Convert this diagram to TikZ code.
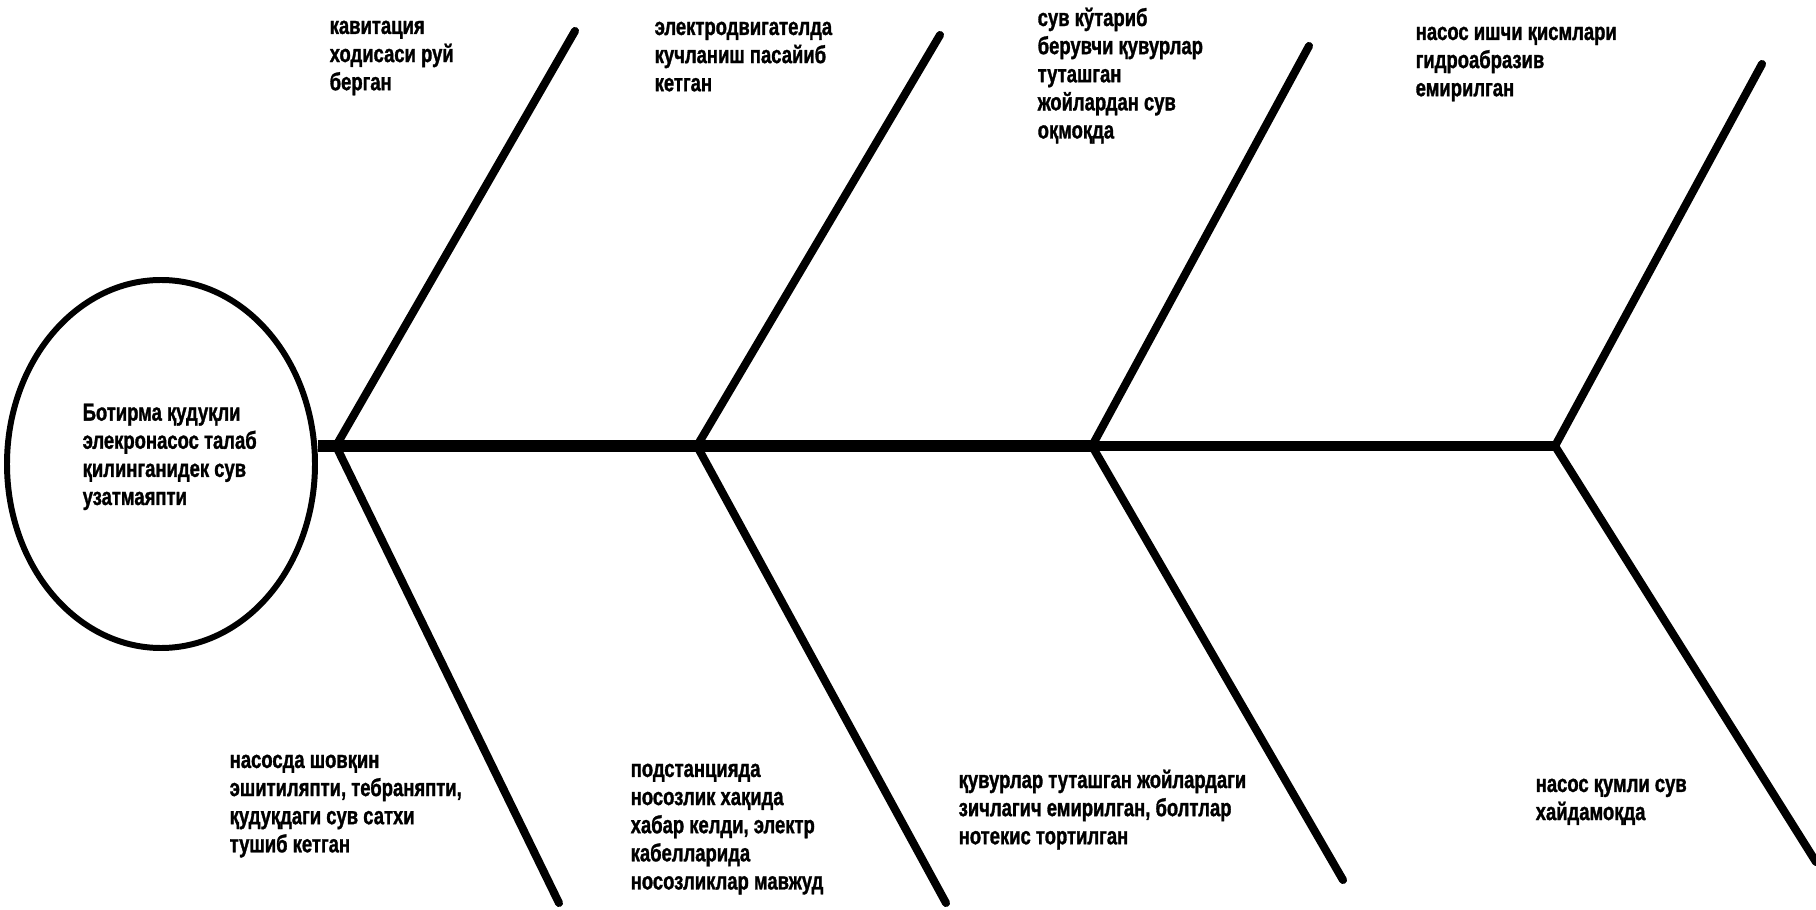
\documentclass[tikz,border=0pt]{standalone}
\usepackage{fontspec}
\usepackage{tikz}
\usetikzlibrary{shapes.geometric}
\newfontfamily\lblfont{Liberation Sans}[FakeStretch=0.75,UprightFont=*-Bold,FakeBold=1.2]

\begin{document}
\begin{tikzpicture}[
    prob/.style={ellipse,draw,line width=1.7pt,minimum width=3.08cm,minimum height=3.68cm,inner sep=0pt},
    lbl/.style={font=\lblfont\fontsize{7}{8}\selectfont,align=left,inner sep=0pt,anchor=north west},
    spine/.style={line width=3.4pt},
    bone/.style={line width=2.3pt,line cap=round}]
\useasboundingbox (0,0) rectangle (18.16,9.09);
% effect (head of the fish, on the left)
\node[prob] (prob) at (1.61,4.45) {};
\node[lbl] (probtxt) at (0.82,5.06)
  {Ботирма қудуқли\\элекронасос талаб\\қилинганидек сув\\узатмаяпти};
% joints on the spine
\coordinate (j1) at (3.36,4.63);
\coordinate (j2) at (6.97,4.63);
\coordinate (j3) at (10.92,4.63);
\coordinate (j4) at (15.55,4.63);
\coordinate (s0) at (prob.east |- j1);
% free ends of the bones
\coordinate (t1) at (5.75,8.78);
\coordinate (t2) at (9.40,8.74);
\coordinate (t3) at (13.09,8.63);
\coordinate (t4) at (17.62,8.45);
\coordinate (b1) at (5.59,0.06);
\coordinate (b2) at (9.46,0.06);
\coordinate (b3) at (13.43,0.29);
\coordinate (b4) at (18.16,0.47);
% spine
\draw[spine] (s0) -- (j3);
\draw[line width=3pt] (j3) -- (j4);
% bones
\foreach \i in {1,...,4} {
  \draw[bone] (j\i) -- (t\i);
  \draw[bone] (j\i) -- (b\i);
}
% causes above the spine
\node[lbl] (c1) at (3.29,8.89) {кавитация\\ходисаси руй\\берган};
\node[lbl] (c2) at (6.54,8.88) {электродвигателда\\кучланиш пасайиб\\кетган};
\node[lbl] (c3) at (10.37,9.02)
  {сув кўтариб\\берувчи қувурлар\\туташган\\жойлардан сув\\оқмоқда};
\node[lbl] (c4) at (14.15,8.83) {насос ишчи қисмлари\\гидроабразив\\емирилган};
% causes below the spine
\node[lbl] (d1) at (2.29,1.55)
  {насосда шовқин\\эшитиляпти, тебраняпти,\\қудуқдаги сув сатхи\\тушиб кетган};
\node[lbl] (d2) at (6.30,1.46)
  {подстанцияда\\носозлик хақида\\хабар келди, электр\\кабелларида\\носозликлар мавжуд};
\node[lbl] (d3) at (9.58,1.40)
  {қувурлар туташган жойлардаги\\зичлагич емирилган, болтлар\\нотекис тортилган};
\node[lbl] (d4) at (15.35,1.31) {насос қумли сув\\хайдамоқда};
\end{tikzpicture}
\end{document}
